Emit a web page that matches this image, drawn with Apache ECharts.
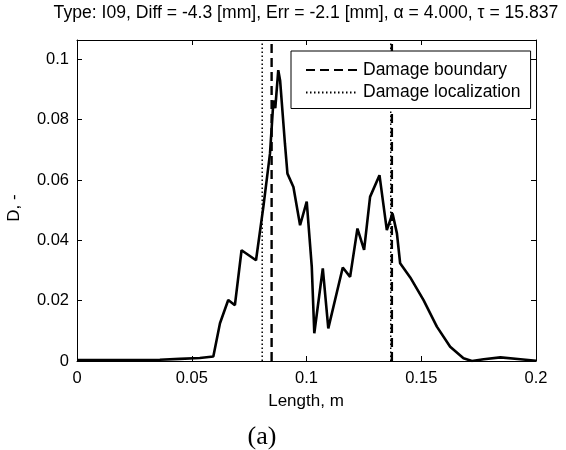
<!DOCTYPE html>
<html>
<head>
<meta charset="utf-8">
<script src="https://cdn.jsdelivr.net/npm/echarts@6/dist/echarts.min.js"></script>
<style>
html,body{margin:0;padding:0;background:#fff;}
#chart{width:566px;height:450px;}
</style>
</head>
<body>
<div id="chart"></div>
<script>
// ---- data ----
const lengthM = [0, 0.0274, 0.0361, 0.0448, 0.0535, 0.0594, 0.0623, 0.0659, 0.0688, 0.0717, 0.0780, 0.0812, 0.0841, 0.0856, 0.0864, 0.0877, 0.0885, 0.0906, 0.0917, 0.0943, 0.0972, 0.1001, 0.1023, 0.1034, 0.1071, 0.1095, 0.1158, 0.1190, 0.1222, 0.1251, 0.1277, 0.1318, 0.1350, 0.1375, 0.1394, 0.1408, 0.1452, 0.1510, 0.1568, 0.1626, 0.1684, 0.1721, 0.1772, 0.1845, 0.1932, 0.2000];
const damageD = [0.0003, 0.0003, 0.0004, 0.0007, 0.0010, 0.0015, 0.0125, 0.0202, 0.0185, 0.0367, 0.0334, 0.0511, 0.0688, 0.0864, 0.0838, 0.0964, 0.0930, 0.0721, 0.0621, 0.0577, 0.0450, 0.0528, 0.0312, 0.0092, 0.0307, 0.0108, 0.0310, 0.0279, 0.0439, 0.0368, 0.0544, 0.0616, 0.0434, 0.0489, 0.0423, 0.0324, 0.0277, 0.0202, 0.0114, 0.0047, 0.0009, 0.0000, 0.0006, 0.0012, 0.0006, 0.0001];
const boundaryX = [0.0848, 0.1372];
const localizationX = [0.0807, 0.1367];
const xTicks = [0, 0.05, 0.1, 0.15, 0.2];
const yTicks = [0, 0.02, 0.04, 0.06, 0.08, 0.1];
const X_MIN = 0, X_MAX = 0.2, Y_MIN = 0, Y_MAX = 0.1064;
const titleText = 'Type: I09, Diff = -4.3 [mm], Err = -2.1 [mm], \u03b1 = 4.000, \u03c4 = 15.837';
const xName = 'Length, m';
const yName = 'D, -';
const panelLabel = '(a)';
const legendNames = ['Damage boundary', 'Damage localization'];

const FONT = '"Liberation Sans", Arial, sans-serif';
const chart = echarts.init(document.getElementById('chart'), null, {renderer: 'canvas'});

function vLines(xs, name, style) {
  const d = [];
  xs.forEach((x, i) => {
    if (i > 0) d.push(null);
    d.push([x, Y_MIN]);
    d.push([x, Y_MAX]);
  });
  return {
    name: name, type: 'line', data: d, symbol: 'none', connectNulls: false,
    xAxisIndex: 0, yAxisIndex: 0, silent: true, animation: false,
    lineStyle: style, itemStyle: {color: '#000'}, z: 3
  };
}

const axisCommon = {
  axisLine: {show: true, onZero: false, lineStyle: {color: '#000', width: 1}},
  axisTick: {show: true, inside: true, length: 5, lineStyle: {color: '#000', width: 1}},
  splitLine: {show: false},
};

const option = {
  backgroundColor: '#fff',
  animation: false,
  grid: {left: 77, right: 30, top: 40, bottom: 89},
  xAxis: [
    Object.assign({type: 'value', min: X_MIN, max: X_MAX, interval: xTicks[1] - xTicks[0], position: 'bottom',
      axisLabel: {color: '#000', fontFamily: FONT, fontSize: 16.5, margin: 9,
        formatter: v => (xTicks.some(t => Math.abs(t - v) < 1e-9) ? String(+v.toFixed(4)) : '')}}, axisCommon),
    Object.assign({type: 'value', min: X_MIN, max: X_MAX, interval: xTicks[1] - xTicks[0], position: 'top',
      axisLabel: {show: false}}, axisCommon)
  ],
  yAxis: [
    Object.assign({type: 'value', min: Y_MIN, max: Y_MAX, interval: yTicks[1] - yTicks[0], position: 'left',
      axisLabel: {color: '#000', fontFamily: FONT, fontSize: 16.5, margin: 8, showMaxLabel: false,
        formatter: v => (yTicks.some(t => Math.abs(t - v) < 1e-9) ? String(+v.toFixed(4)) : '')}}, axisCommon),
    Object.assign({type: 'value', min: Y_MIN, max: Y_MAX, interval: yTicks[1] - yTicks[0], position: 'right',
      axisLabel: {show: false}}, axisCommon)
  ],
  legend: {
    data: legendNames,
    orient: 'vertical',
    left: 291, top: 51,
    padding: [10, 10, 7, 14],
    itemGap: 4.5,
    itemWidth: 52, itemHeight: 14,
    backgroundColor: '#fff',
    borderColor: '#000', borderWidth: 1,
    itemStyle: {opacity: 0},
    textStyle: {color: '#000', fontFamily: FONT, fontSize: 17.5},
    selectedMode: false
  },
  graphic: [
    {type: 'text', x: 306, y: 13, style: {text: titleText, fill: '#000', font: '17.6px ' + FONT, textAlign: 'center', textVerticalAlign: 'middle'}},
    {type: 'text', x: 306, y: 401, style: {text: xName, fill: '#000', font: '17px ' + FONT, textAlign: 'center', textVerticalAlign: 'middle'}},
    {type: 'text', x: 14, y: 208, rotation: Math.PI / 2, style: {text: yName, fill: '#000', font: '17px ' + FONT, textAlign: 'center', textVerticalAlign: 'middle'}},
    {type: 'text', x: 262, y: 437, style: {text: panelLabel, fill: '#000', font: '26px "Liberation Serif", "Times New Roman", serif', textAlign: 'center', textVerticalAlign: 'middle'}}
  ],
  series: [
    {
      name: 'D', type: 'line', data: lengthM.map((x, i) => [x, damageD[i]]),
      symbol: 'none', xAxisIndex: 0, yAxisIndex: 0,
      lineStyle: {color: '#000', width: 2.6}, itemStyle: {color: '#000'}, z: 4
    },
    vLines(boundaryX, legendNames[0], {color: '#000', width: 2.4, type: [9, 5]}),
    vLines(localizationX, legendNames[1], {color: '#000', width: 1.5, type: [1.5, 2.5]})
  ]
};
chart.setOption(option);
</script>
</body>
</html>
